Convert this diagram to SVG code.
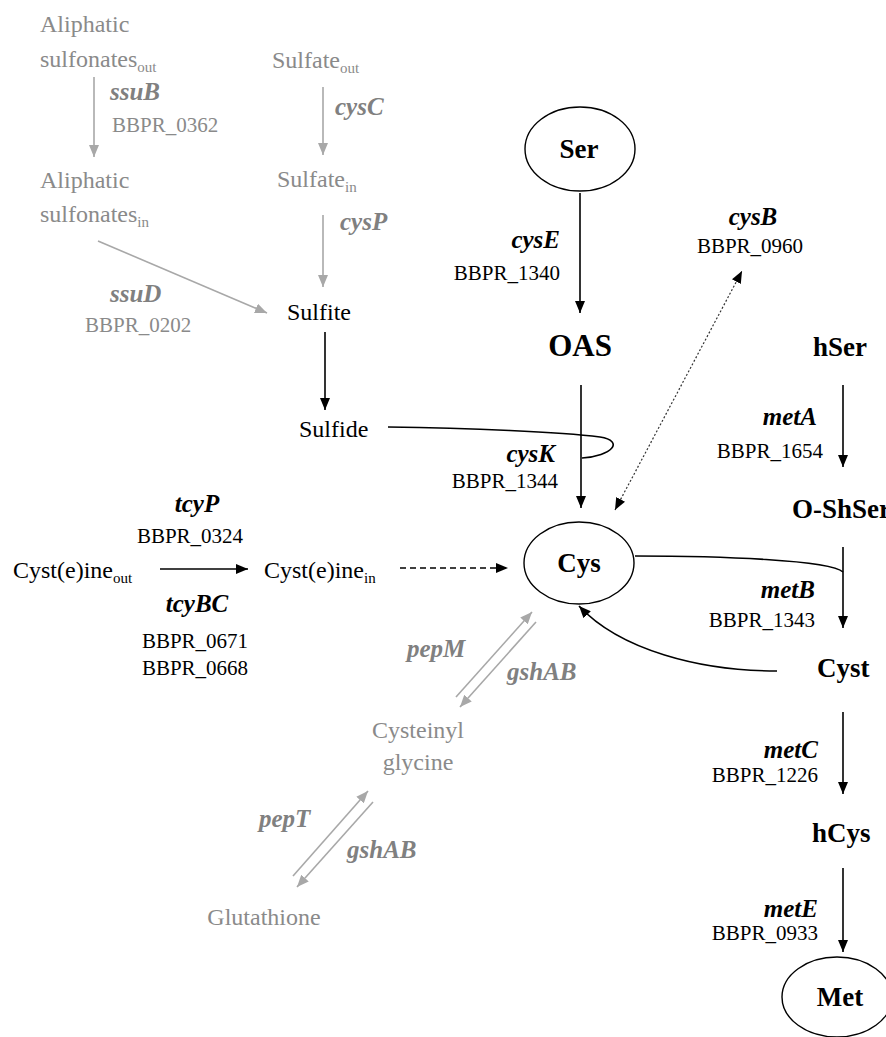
<svg xmlns="http://www.w3.org/2000/svg" width="886" height="1037" viewBox="0 0 886 1037">
<style>
.qblk{stroke:#000;stroke-width:1.6;fill:none;}
.qgry{stroke:#a8a8a8;stroke-width:1.6;fill:none;}
.qnode{fill:#fff;stroke:#000;stroke-width:1.4;}
</style>
<defs>
<marker id="ab" viewBox="0 0 12 10" refX="12" refY="5" markerWidth="12" markerHeight="10" markerUnits="userSpaceOnUse" orient="auto-start-reverse"><path d="M0,0 L12,5 L0,10 z" fill="#000"/></marker>
<marker id="ag" viewBox="0 0 12 10" refX="12" refY="5" markerWidth="12" markerHeight="10" markerUnits="userSpaceOnUse" orient="auto"><path d="M0,0 L12,5 L0,10 z" fill="#a8a8a8"/></marker>
</defs>
<rect width="886" height="1037" fill="#fff"/>

<g id="connectors">
<line class="qgry" x1="94" y1="77" x2="94" y2="157" marker-end="url(#ag)"/>
<line class="qgry" x1="323" y1="87" x2="323" y2="155" marker-end="url(#ag)"/>
<line class="qgry" x1="323" y1="215" x2="323" y2="287" marker-end="url(#ag)"/>
<line class="qgry" x1="98" y1="241" x2="267" y2="313" marker-end="url(#ag)"/>
<line class="qblk" x1="325" y1="332" x2="325" y2="410" marker-end="url(#ab)"/>
<line class="qblk" x1="580" y1="193" x2="580" y2="313" marker-end="url(#ab)"/>
<line class="qblk" x1="581" y1="385" x2="581" y2="508" marker-end="url(#ab)"/>
<path class="qblk" d="M388,427 C470,428 560,432 600,437 C625,441 612,456 582,458"/>
<line x1="615" y1="510" x2="742" y2="271" stroke="#333" stroke-width="1.2" stroke-dasharray="2,2" marker-start="url(#ab)" marker-end="url(#ab)"/>
<line class="qblk" x1="160" y1="569" x2="248" y2="569" marker-end="url(#ab)"/>
<line class="qblk" x1="400" y1="568" x2="508" y2="568" stroke-dasharray="6,4" marker-end="url(#ab)"/>
<line class="qblk" x1="843" y1="385" x2="843" y2="467" marker-end="url(#ab)"/>
<line class="qblk" x1="843" y1="547" x2="843" y2="628" marker-end="url(#ab)"/>
<path class="qblk" d="M635,556 C720,556 830,560 843,572"/>
<path class="qblk" d="M777,671 C700,671 620,650 579,606" marker-end="url(#ab)"/>
<line class="qblk" x1="843" y1="712" x2="843" y2="794" marker-end="url(#ab)"/>
<line class="qblk" x1="843" y1="868" x2="843" y2="952" marker-end="url(#ab)"/>
<line class="qgry" x1="456" y1="697" x2="532" y2="612" marker-end="url(#ag)"/>
<line class="qgry" x1="536" y1="622" x2="460" y2="707" marker-end="url(#ag)"/>
<line class="qgry" x1="293" y1="876" x2="368" y2="791" marker-end="url(#ag)"/>
<line class="qgry" x1="373" y1="802" x2="297" y2="887" marker-end="url(#ag)"/>
</g>

<g id="labels">
<text font-family="Liberation Serif" font-size="25" font-weight="bold" font-style="italic" fill="#808080" x="110" y="100">ssuB</text>
<text font-family="Liberation Serif" font-size="21" fill="#8a8a8a" x="112" y="132">BBPR_0362</text>
<text font-family="Liberation Serif" font-size="25" font-weight="bold" font-style="italic" fill="#808080" x="110" y="302">ssuD</text>
<text font-family="Liberation Serif" font-size="21" fill="#8a8a8a" x="85" y="332">BBPR_0202</text>
<text font-family="Liberation Serif" font-size="25" font-weight="bold" font-style="italic" fill="#808080" x="335" y="115">cysC</text>
<text font-family="Liberation Serif" font-size="25" font-weight="bold" font-style="italic" fill="#808080" x="340" y="230">cysP</text>
<text font-family="Liberation Serif" font-size="25" font-weight="bold" font-style="italic" x="560" y="248" text-anchor="end">cysE</text>
<text font-family="Liberation Serif" font-size="21" x="560" y="280" text-anchor="end">BBPR_1340</text>
<text font-family="Liberation Serif" font-size="25" font-weight="bold" font-style="italic" x="555" y="462" text-anchor="end">cysK</text>
<text font-family="Liberation Serif" font-size="21" x="558" y="488" text-anchor="end">BBPR_1344</text>
<text font-family="Liberation Serif" font-size="25" font-weight="bold" font-style="italic" x="753" y="225" text-anchor="middle">cysB</text>
<text font-family="Liberation Serif" font-size="21" x="750" y="253" text-anchor="middle">BBPR_0960</text>
<text font-family="Liberation Serif" font-size="25" font-weight="bold" font-style="italic" x="197" y="512" text-anchor="middle">tcyP</text>
<text font-family="Liberation Serif" font-size="21" x="190" y="543" text-anchor="middle">BBPR_0324</text>
<text font-family="Liberation Serif" font-size="25" font-weight="bold" font-style="italic" x="197" y="612" text-anchor="middle">tcyBC</text>
<text font-family="Liberation Serif" font-size="21" x="195" y="648" text-anchor="middle">BBPR_0671</text>
<text font-family="Liberation Serif" font-size="21" x="195" y="675" text-anchor="middle">BBPR_0668</text>
<text font-family="Liberation Serif" font-size="25" font-weight="bold" font-style="italic" x="817" y="425" text-anchor="end">metA</text>
<text font-family="Liberation Serif" font-size="21" x="823" y="458" text-anchor="end">BBPR_1654</text>
<text font-family="Liberation Serif" font-size="25" font-weight="bold" font-style="italic" x="815" y="598" text-anchor="end">metB</text>
<text font-family="Liberation Serif" font-size="21" x="815" y="627" text-anchor="end">BBPR_1343</text>
<text font-family="Liberation Serif" font-size="25" font-weight="bold" font-style="italic" x="818" y="758" text-anchor="end">metC</text>
<text font-family="Liberation Serif" font-size="21" x="818" y="782" text-anchor="end">BBPR_1226</text>
<text font-family="Liberation Serif" font-size="25" font-weight="bold" font-style="italic" x="818" y="917" text-anchor="end">metE</text>
<text font-family="Liberation Serif" font-size="21" x="818" y="940" text-anchor="end">BBPR_0933</text>
<text font-family="Liberation Serif" font-size="25" font-weight="bold" font-style="italic" fill="#808080" x="407" y="657">pepM</text>
<text font-family="Liberation Serif" font-size="25" font-weight="bold" font-style="italic" fill="#808080" x="507" y="680">gshAB</text>
<text font-family="Liberation Serif" font-size="25" font-weight="bold" font-style="italic" fill="#808080" x="259" y="827">pepT</text>
<text font-family="Liberation Serif" font-size="25" font-weight="bold" font-style="italic" fill="#808080" x="347" y="858">gshAB</text>
</g>

<g id="n-aliph-out"><text font-family="Liberation Serif" font-size="24" fill="#8a8a8a" x="40" y="32">Aliphatic</text><text font-family="Liberation Serif" font-size="24" fill="#8a8a8a" x="40" y="67">sulfonates<tspan font-size="15" dy="5">out</tspan></text></g>
<g id="n-aliph-in"><text font-family="Liberation Serif" font-size="24" fill="#8a8a8a" x="40" y="188">Aliphatic</text><text font-family="Liberation Serif" font-size="24" fill="#8a8a8a" x="40" y="222">sulfonates<tspan font-size="15" dy="5">in</tspan></text></g>
<g id="n-sulfate-out"><text font-family="Liberation Serif" font-size="24" fill="#8a8a8a" x="272" y="68">Sulfate<tspan font-size="15" dy="5">out</tspan></text></g>
<g id="n-sulfate-in"><text font-family="Liberation Serif" font-size="24" fill="#8a8a8a" x="277" y="187">Sulfate<tspan font-size="15" dy="5">in</tspan></text></g>
<g id="n-sulfite"><text font-family="Liberation Serif" font-size="24" x="287" y="320">Sulfite</text></g>
<g id="n-sulfide"><text font-family="Liberation Serif" font-size="24" x="299" y="437">Sulfide</text></g>
<g id="n-ser"><ellipse class="qnode" cx="580" cy="149" rx="55" ry="42"/><text font-family="Liberation Serif" font-size="27" font-weight="bold" x="579" y="158" text-anchor="middle">Ser</text></g>
<g id="n-oas"><text font-family="Liberation Serif" font-size="31" font-weight="bold" x="580" y="356" text-anchor="middle">OAS</text></g>
<g id="n-cys"><ellipse class="qnode" cx="579" cy="563" rx="55" ry="41"/><text font-family="Liberation Serif" font-size="27" font-weight="bold" x="579" y="572" text-anchor="middle">Cys</text></g>
<g id="n-cyst-out"><text font-family="Liberation Serif" font-size="24" x="13" y="578">Cyst(e)ine<tspan font-size="15" dy="5">out</tspan></text></g>
<g id="n-cyst-in"><text font-family="Liberation Serif" font-size="24" x="264" y="578">Cyst(e)ine<tspan font-size="15" dy="5">in</tspan></text></g>
<g id="n-cysgly"><text font-family="Liberation Serif" font-size="24" fill="#8a8a8a" x="418" y="738" text-anchor="middle">Cysteinyl</text><text font-family="Liberation Serif" font-size="24" fill="#8a8a8a" x="418" y="770" text-anchor="middle">glycine</text></g>
<g id="n-glut"><text font-family="Liberation Serif" font-size="24" fill="#8a8a8a" x="264" y="925" text-anchor="middle">Glutathione</text></g>
<g id="n-hser"><text font-family="Liberation Serif" font-size="27" font-weight="bold" x="813" y="356">hSer</text></g>
<g id="n-oshser"><text font-family="Liberation Serif" font-size="27" font-weight="bold" x="792" y="518">O-ShSer</text></g>
<g id="n-cyst"><text font-family="Liberation Serif" font-size="27" font-weight="bold" x="817" y="677">Cyst</text></g>
<g id="n-hcys"><text font-family="Liberation Serif" font-size="27" font-weight="bold" x="812" y="842">hCys</text></g>
<g id="n-met"><ellipse class="qnode" cx="837" cy="997" rx="55" ry="40"/><text font-family="Liberation Serif" font-size="27" font-weight="bold" x="840" y="1006" text-anchor="middle">Met</text></g>
</svg>
